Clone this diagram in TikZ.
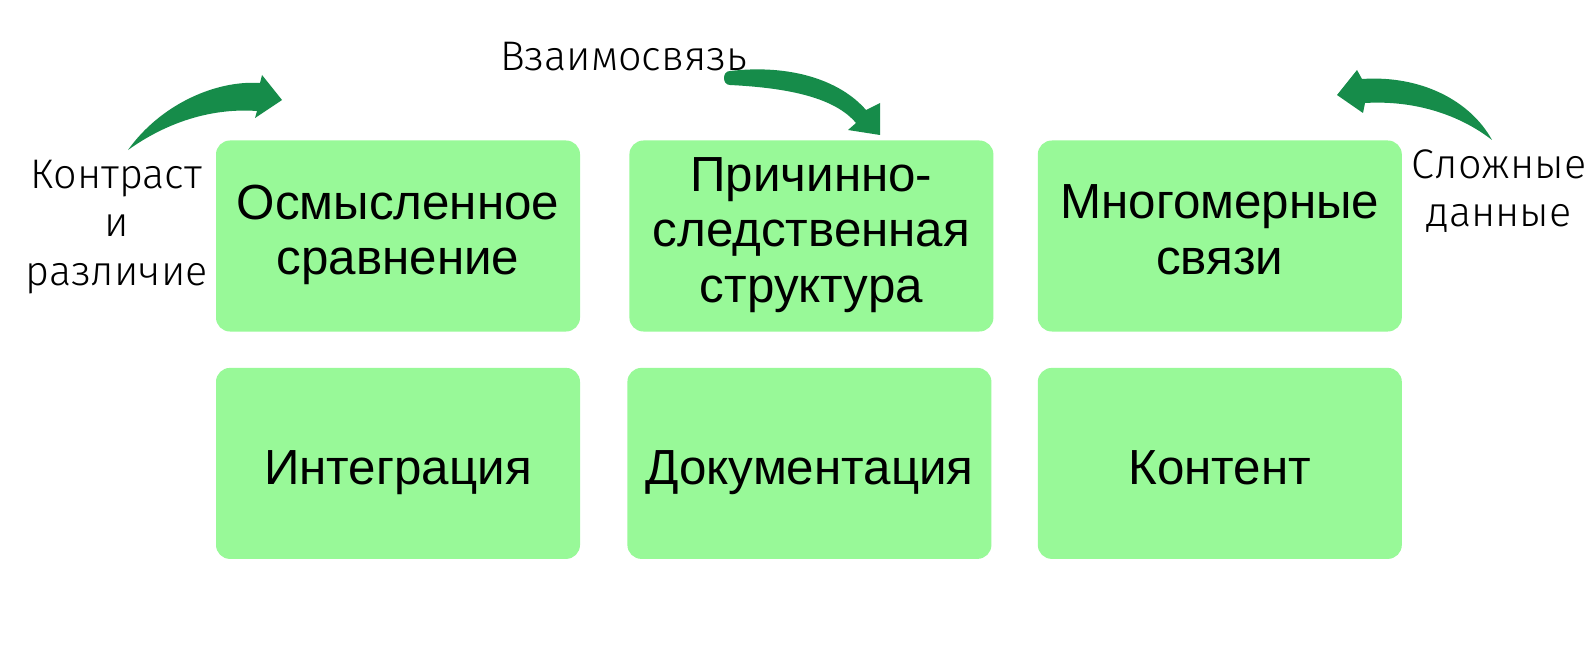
\documentclass[tikz,border=0pt]{standalone}
\usepackage{fontspec}
\setmainfont{Liberation Sans}
\newfontfamily\thinfont{Fira Sans Light}
\usetikzlibrary{positioning}
\definecolor{boxgreen}{RGB}{152,249,152}
\definecolor{arrowgreen}{RGB}{22,140,74}

\begin{document}
\begin{tikzpicture}[x=1bp,y=-1bp,
  every node/.style={inner sep=0pt},
  block/.style={rectangle,rounded corners=14bp,fill=boxgreen,
    minimum width=364bp,minimum height=191bp,align=center,
    font=\fontsize{49.5}{55.7}\selectfont,
    execute at begin node=\leavevmode\vrule width0pt height1.11em depth0pt,
    execute at end node=\vrule width0pt height0pt depth.255em},
  note/.style={align=center,font=\thinfont\fontsize{41.5}{48.6}\selectfont},
  curvearrow/.style={fill=arrowgreen}]
\useasboundingbox (0,0) rectangle (1588,672);
\fill[white] (0,0) rectangle (1588,672);
% top row
\node[block] (meaning) at (398,236) {Осмысленное\\сравнение};
\node[block,right=49bp of meaning] (cause) {Причинно-\\следственная\\структура};
\node[block,right=44bp of cause] (multi) {Многомерные\\связи};
% bottom row
\node[block,below=36bp of meaning] (integr) {Интеграция};
\node[block,below=36bp of cause,xshift=-2bp] (docu) {Документация};
\node[block,below=36bp of multi] (content) {Контент};
% side notes
\node[note] (contrast) at (116.5,227) {Контраст\\и\\различие};
\node[note] (relation) at (624,57) {Взаимосвязь};
\node[note] (complex) at (1499,191) {Сложные\\данные};
% curved arrows
\fill[curvearrow] (128,150) .. controls (160,105) and (215,80) .. (260,83)
  -- (262,75) -- (282,100) -- (255,118) -- (257,111)
  .. controls (215,108) and (170,120) .. (128,150) -- cycle;
\fill[curvearrow] (730,71) .. controls (790,64) and (840,80) .. (866,110)
  -- (880,103) -- (880,135) -- (848,130) -- (856,123)
  .. controls (835,98) and (790,88) .. (730,85)
  .. controls (722,85) and (722,71) .. (730,71) -- cycle;
\fill[curvearrow] (1492,140) .. controls (1470,100) and (1420,75) .. (1362,79)
  -- (1357,70) -- (1337,95) -- (1363,113) -- (1365,103)
  .. controls (1415,100) and (1460,115) .. (1492,140) -- cycle;
\end{tikzpicture}
\end{document}
